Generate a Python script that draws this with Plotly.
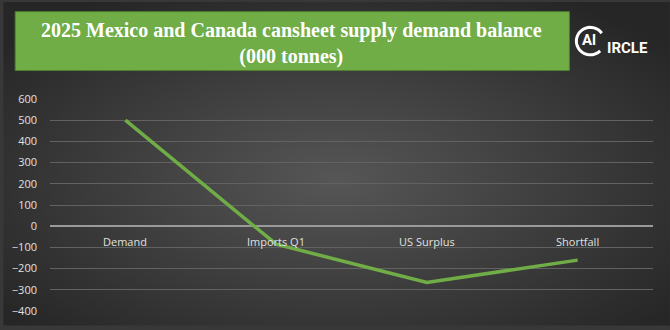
import base64
import numpy as np
import plotly.graph_objects as go

categories = ["Demand", "Imports Q1", "US Surplus", "Shortfall"]
values = [500, -85, -265, -160]
y_ticks = [600, 500, 400, 300, 200, 100, 0, -100, -200, -300, -400]
title_text = "2025 Mexico and Canada cansheet supply demand balance<br>(000 tonnes)"

W, H = 670, 330
L, R, T, B = 47, 17, 99, 15

fig = go.Figure()
fig.add_trace(go.Scatter(
    x=categories, y=values, mode="lines",
    line=dict(color="#70ad47", width=3.5),
    hoverinfo="skip", showlegend=False,
))

# background gradient
svg = f'''<svg xmlns="http://www.w3.org/2000/svg" width="{W}" height="{H}">
<defs><radialGradient id="g" cx="50%" cy="55%" r="65%">
<stop offset="0%" stop-color="#565656"/><stop offset="100%" stop-color="#262626"/>
</radialGradient></defs><rect width="{W}" height="{H}" fill="url(#g)"/></svg>'''
src = "data:image/svg+xml;base64," + base64.b64encode(svg.encode()).decode()

def px(x):
    return (x - L) / (W - L - R)

def py(y):
    return 1 - (y - T) / (H - T - B)

shapes = [
    dict(type="rect", xref="paper", yref="paper", x0=px(12), x1=px(569), y0=py(70), y1=py(10),
         fillcolor="#70ad47", line=dict(color="#4f7f31", width=1), layer="above"),
]
# logo arc
cx, cy, r = 590, 40, 14
ang = np.linspace(np.deg2rad(35), np.deg2rad(315), 40)
pts = [(px(cx + r * np.cos(a)), py(cy - r * np.sin(a))) for a in ang]
path = "M " + " L ".join(f"{a:.5f},{b:.5f}" for a, b in pts)
shapes.append(dict(type="path", xref="paper", yref="paper", path=path,
                   line=dict(color="white", width=3), layer="above"))

annotations = [
    dict(text=f"<b>{title_text}</b>", xref="paper", yref="paper", x=px(290), y=py(42),
         showarrow=False, font=dict(family="Liberation Serif", size=20, color="white"),
         xanchor="center", yanchor="middle"),
    dict(text="<b>Al</b>", xref="paper", yref="paper", x=px(589), y=py(39), showarrow=False,
         font=dict(family="Roboto", size=15, color="white"), xanchor="center", yanchor="middle"),
    dict(text="<b>IRCLE</b>", xref="paper", yref="paper", x=px(605), y=py(47), showarrow=False,
         font=dict(family="Roboto", size=15, color="white"), xanchor="left", yanchor="middle"),
]
for c in categories:
    annotations.append(dict(text=c, x=c, y=0, xref="x", yref="y", showarrow=False,
                            yanchor="top", yshift=-6,
                            font=dict(family="Open Sans", size=11, color="#e0e0e0")))

fig.update_layout(
    width=W, height=H,
    margin=dict(l=L, r=R, t=T, b=B),
    paper_bgcolor="#383838", plot_bgcolor="rgba(0,0,0,0)",
    images=[dict(source=src, xref="paper", yref="paper", x=px(0), y=py(0),
                 sizex=W / (W - L - R), sizey=H / (H - T - B), sizing="stretch",
                 layer="below", xanchor="left", yanchor="top")],
    shapes=shapes, annotations=annotations,
    xaxis=dict(showticklabels=False, showgrid=False, zeroline=False, showline=False,
               range=[-0.5, 3.5], fixedrange=True),
    yaxis=dict(range=[-400, 600], tickvals=y_ticks, showgrid=True, gridcolor="#626262",
               gridwidth=1, zeroline=True, zerolinecolor="#9a9a9a", zerolinewidth=1.5,
               tickfont=dict(family="Open Sans", size=11, color="#e0e0e0"),
               ticklabelstandoff=12, fixedrange=True),
    showlegend=False,
)

fig.write_html("out.html")
